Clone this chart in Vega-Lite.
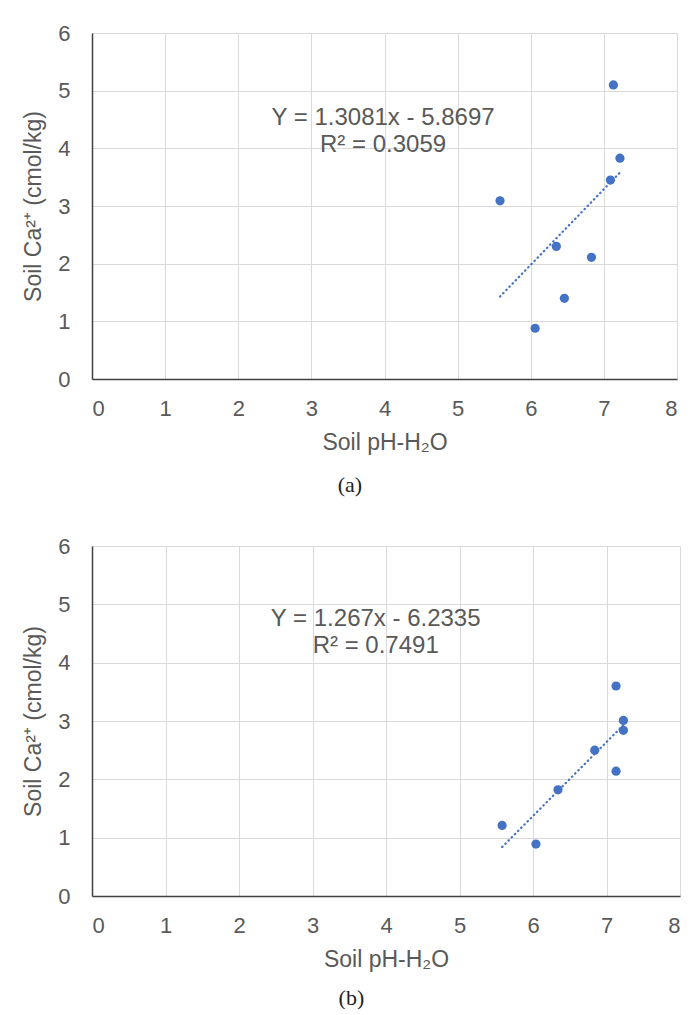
{
  "$schema": "https://vega.github.io/schema/vega-lite/v6.json",
  "padding": {"left": 22, "top": 22, "right": 3, "bottom": 0},
  "background": "white",
  "spacing": 39,
  "config": {
    "font": "Liberation Sans",
    "view": {"stroke": null},
    "axis": {
      "labelFont": "Liberation Sans",
      "labelFontSize": 22,
      "labelColor": "#595959",
      "labelOverlap": false,
      "titleFont": "Liberation Sans",
      "titleFontSize": 23,
      "titleFontWeight": "normal",
      "titleColor": "#595959",
      "gridColor": "#d9d9d9",
      "gridWidth": 1,
      "domainColor": "#404040",
      "domainWidth": 1.5,
      "ticks": false
    },
    "title": {"font": "Liberation Serif", "fontSize": 22, "fontWeight": "normal", "color": "#222222"}
  },
  "datasets": {
    "pts": [
      {"panel": "a", "ph": 7.13, "ca": 5.1},
      {"panel": "a", "ph": 7.22, "ca": 3.83},
      {"panel": "a", "ph": 7.09, "ca": 3.45},
      {"panel": "a", "ph": 5.58, "ca": 3.09},
      {"panel": "a", "ph": 6.35, "ca": 2.3},
      {"panel": "a", "ph": 6.83, "ca": 2.11},
      {"panel": "a", "ph": 6.46, "ca": 1.4},
      {"panel": "a", "ph": 6.06, "ca": 0.88},
      {"panel": "b", "ph": 7.13, "ca": 3.6},
      {"panel": "b", "ph": 7.23, "ca": 3.01},
      {"panel": "b", "ph": 7.23, "ca": 2.84},
      {"panel": "b", "ph": 6.84, "ca": 2.5},
      {"panel": "b", "ph": 7.13, "ca": 2.14},
      {"panel": "b", "ph": 6.34, "ca": 1.82},
      {"panel": "b", "ph": 5.58, "ca": 1.21},
      {"panel": "b", "ph": 6.04, "ca": 0.89}
    ],
    "fit": [
      {"panel": "a", "ph": 5.58, "ca": 1.43},
      {"panel": "a", "ph": 7.22, "ca": 3.58},
      {"panel": "b", "ph": 5.58, "ca": 0.84},
      {"panel": "b", "ph": 7.23, "ca": 2.93}
    ],
    "eq": [
      {"panel": "a", "ph": 3.98, "ca": 4.52, "label": "Y = 1.3081x - 5.8697"},
      {"panel": "a", "ph": 3.98, "ca": 4.05, "label": "R² = 0.3059"},
      {"panel": "b", "ph": 3.86, "ca": 4.75, "label": "Y = 1.267x - 6.2335"},
      {"panel": "b", "ph": 3.86, "ca": 4.29, "label": "R² = 0.7491"}
    ]
  },
  "vconcat": [
    {
      "width": 585,
      "height": 346,
      "title": {"text": "(a)", "orient": "bottom", "frame": "bounds", "anchor": "middle", "offset": 21},
      "encoding": {
        "x": {"field": "ph", "type": "quantitative", "scale": {"domain": [0, 8], "nice": false}, "axis": {"title": "Soil pH-H₂O", "values": [0,1,2,3,4,5,6,7,8], "labelPadding": 19, "titlePadding": 12}},
        "y": {"field": "ca", "type": "quantitative", "scale": {"domain": [0, 6], "nice": false}, "axis": {"title": "Soil Ca²⁺ (cmol/kg)", "values": [0,1,2,3,4,5,6], "labelPadding": 22, "titlePadding": 12}}
      },
      "layer": [
        {"data": {"name": "fit"}, "transform": [{"filter": "datum.panel === 'a'"}], "mark": {"type": "line", "color": "#4472C4", "strokeWidth": 2.2, "strokeDash": [0.5, 4], "strokeCap": "round"}},
        {"data": {"name": "pts"}, "transform": [{"filter": "datum.panel === 'a'"}], "mark": {"type": "circle", "color": "#4472C4", "size": 85, "opacity": 1}},
        {"data": {"name": "eq"}, "transform": [{"filter": "datum.panel === 'a'"}], "mark": {"type": "text", "fontSize": 24, "color": "#595959", "align": "center", "baseline": "middle", "font": "Liberation Sans"}, "encoding": {"text": {"field": "label"}}}
      ]
    },
    {
      "width": 588,
      "height": 350,
      "title": {"text": "(b)", "orient": "bottom", "frame": "bounds", "anchor": "middle", "offset": 17},
      "encoding": {
        "x": {"field": "ph", "type": "quantitative", "scale": {"domain": [0, 8], "nice": false}, "axis": {"title": "Soil pH-H₂O", "values": [0,1,2,3,4,5,6,7,8], "labelPadding": 19, "titlePadding": 12}},
        "y": {"field": "ca", "type": "quantitative", "scale": {"domain": [0, 6], "nice": false}, "axis": {"title": "Soil Ca²⁺ (cmol/kg)", "values": [0,1,2,3,4,5,6], "labelPadding": 22, "titlePadding": 12}}
      },
      "layer": [
        {"data": {"name": "fit"}, "transform": [{"filter": "datum.panel === 'b'"}], "mark": {"type": "line", "color": "#4472C4", "strokeWidth": 2.2, "strokeDash": [0.5, 4], "strokeCap": "round"}},
        {"data": {"name": "pts"}, "transform": [{"filter": "datum.panel === 'b'"}], "mark": {"type": "circle", "color": "#4472C4", "size": 85, "opacity": 1}},
        {"data": {"name": "eq"}, "transform": [{"filter": "datum.panel === 'b'"}], "mark": {"type": "text", "fontSize": 24, "color": "#595959", "align": "center", "baseline": "middle", "font": "Liberation Sans"}, "encoding": {"text": {"field": "label"}}}
      ]
    }
  ]
}
